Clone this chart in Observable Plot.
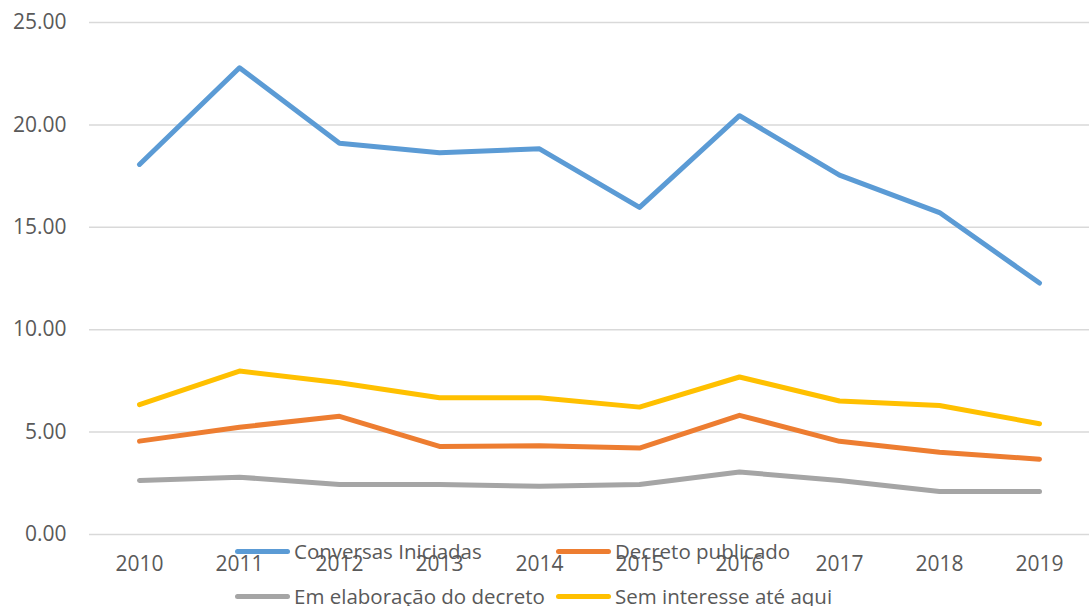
<!DOCTYPE html>
<html>
<head>
<meta charset="utf-8">
<script src="https://cdn.jsdelivr.net/npm/d3@7"></script>
<script src="https://cdn.jsdelivr.net/npm/@observablehq/plot@0.6"></script>
<style>
  html, body { margin: 0; padding: 0; background: #fff; }
  #wrap { position: relative; width: 1089px; height: 606px; font-family: "Open Sans", sans-serif; }
  #legend { position: absolute; left: 0; top: 0; width: 1089px; height: 606px; pointer-events: none; }
  .item { position: absolute; display: flex; align-items: center; font-size: 20.5px; color: #595959; white-space: nowrap; }
  .sw { width: 55px; height: 5px; border-radius: 3px; margin-right: 4px; }
</style>
</head>
<body>
<div id="wrap"></div>
<script>
const years = ["2010","2011","2012","2013","2014","2015","2016","2017","2018","2019"];
const seriesNames = ["Conversas Iniciadas","Decreto publicado","Em elaboração do decreto","Sem interesse até aqui"];
const conversas = [18.07, 22.79, 19.10, 18.64, 18.83, 15.97, 20.45, 17.55, 15.72, 12.28];
const decreto = [4.56, 5.24, 5.77, 4.30, 4.33, 4.22, 5.82, 4.55, 4.02, 3.68];
const elaboracao = [2.64, 2.80, 2.44, 2.44, 2.36, 2.44, 3.05, 2.64, 2.10, 2.10];
const semInteresse = [6.34, 7.98, 7.41, 6.68, 6.68, 6.22, 7.69, 6.52, 6.30, 5.41];
const colors = ["#5b9bd5", "#ed7d31", "#a5a5a5", "#ffc000"];
const yTicks = [0, 5, 10, 15, 20, 25];

const valueLists = [conversas, decreto, elaboracao, semInteresse];
const data = [];
seriesNames.forEach((s, i) => years.forEach((y, j) => data.push({series: s, year: y, value: valueLists[i][j]})));

const chart = Plot.plot({
  width: 1089,
  height: 606,
  marginLeft: 89,
  marginRight: 0,
  marginTop: 22,
  marginBottom: 72,
  style: {fontFamily: "'Open Sans', sans-serif", fontSize: "21px", color: "#595959", background: "#fff"},
  x: {type: "point", domain: years, padding: 0.5, label: null},
  y: {domain: [0, 25], label: null},
  color: {domain: seriesNames, range: colors},
  marks: [
    Plot.gridY(yTicks, {stroke: "#d9d9d9", strokeOpacity: 1, strokeWidth: 1.5}),
    Plot.axisY(yTicks, {tickSize: 0, tickPadding: 23, tickFormat: d => d.toFixed(2), fill: "#595959", fontSize: 21}),
    Plot.axisX(years, {tickSize: 0, tickPadding: 22, fill: "#595959", fontSize: 21}),
    Plot.line(data, {x: "year", y: "value", z: "series", stroke: "series", strokeWidth: 5, strokeLinecap: "round", strokeLinejoin: "round"})
  ]
});

const wrap = document.getElementById("wrap");
wrap.appendChild(chart);

const legend = document.createElement("div");
legend.id = "legend";
const positions = [[235, 551], [556, 551], [235, 596], [556, 596]];
seriesNames.forEach((s, i) => {
  const it = document.createElement("div");
  it.className = "item";
  it.style.left = positions[i][0] + "px";
  it.style.top = (positions[i][1] - 14) + "px";
  it.style.height = "28px";
  const sw = document.createElement("span");
  sw.className = "sw";
  sw.style.background = colors[i];
  const tx = document.createElement("span");
  tx.textContent = s;
  it.appendChild(sw);
  it.appendChild(tx);
  legend.appendChild(it);
});
wrap.appendChild(legend);
</script>
</body>
</html>
